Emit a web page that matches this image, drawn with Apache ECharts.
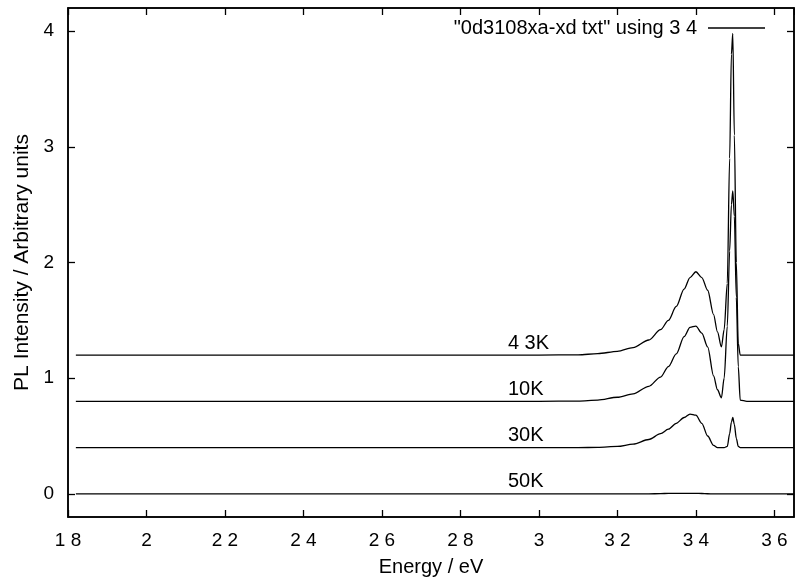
<!DOCTYPE html>
<html>
<head>
<meta charset="utf-8">
<script src="https://cdn.jsdelivr.net/npm/echarts@6/dist/echarts.min.js"></script>
<style>
  html, body { margin: 0; padding: 0; background: #fff; }
  #chart { width: 795px; height: 588px; }
</style>
</head>
<body>
<div id="chart"></div>
<script>
// Photon energy grid (eV), shared by all temperature traces
const energy = [1.82, 2.0, 2.4, 2.8, 3.0, 3.1, 3.15, 3.2, 3.24, 3.28, 3.31, 3.33, 3.35, 3.37, 3.385, 3.40, 3.415, 3.43, 3.445, 3.455, 3.465, 3.472, 3.48, 3.486, 3.4905, 3.494, 3.498, 3.503, 3.508, 3.513, 3.53, 3.65];

// PL intensity (arbitrary units, vertically offset per temperature)
const pl4_3K = [1.2, 1.2, 1.2, 1.2, 1.2, 1.202, 1.212, 1.232, 1.265, 1.33, 1.42, 1.50, 1.62, 1.77, 1.87, 1.92, 1.87, 1.76, 1.55, 1.40, 1.27, 1.42, 1.82, 2.9, 3.8, 3.98, 3.1, 2.0, 1.3, 1.2, 1.2, 1.2];
const pl10K  = [0.8, 0.8, 0.8, 0.8, 0.8, 0.802, 0.81, 0.835, 0.865, 0.93, 1.01, 1.10, 1.21, 1.36, 1.44, 1.45, 1.39, 1.27, 1.02, 0.90, 0.83, 1.0, 1.45, 2.1, 2.5, 2.62, 2.4, 1.7, 1.1, 0.81, 0.8, 0.8];
const pl30K  = [0.4, 0.4, 0.4, 0.4, 0.4, 0.4, 0.402, 0.41, 0.43, 0.47, 0.52, 0.56, 0.61, 0.66, 0.69, 0.68, 0.61, 0.50, 0.42, 0.40, 0.40, 0.40, 0.41, 0.52, 0.62, 0.66, 0.60, 0.48, 0.41, 0.40, 0.40, 0.40];
const pl50K  = [0, 0, 0, 0, 0, 0, 0, 0, 0, 0, 0.002, 0.004, 0.005, 0.005, 0.005, 0.004, 0.003, 0.001, 0, 0, 0, 0, 0, 0, 0, 0, 0, 0, 0, 0, 0, 0];

// Temperature labels and where they sit (eV, baseline intensity)
const tempLabels = ['4 3K', '10K', '30K', '50K'];
const labelEnergy = 2.921;
const labelBase = [1.2, 0.8, 0.4, 0];

// Axis tick labels
const xTicks = {1.8: '1 8', 2: '2', 2.2: '2 2', 2.4: '2 4', 2.6: '2 6', 2.8: '2 8', 3: '3', 3.2: '3 2', 3.4: '3 4', 3.6: '3 6'};
const yTicks = {0: '0', 1: '1', 2: '2', 3: '3', 4: '4'};

const seriesName = '"0d3108xa-xd txt" using 3 4';
const font = '"Liberation Sans", Arial, Helvetica, sans-serif';
const traces = [pl4_3K, pl10K, pl30K, pl50K];

const chart = echarts.init(document.getElementById('chart'), null, {renderer: 'canvas'});

const xKey = v => String(Math.round(v * 10) / 10);
const xFmt = v => { const k = xKey(v); return xTicks[k] !== undefined ? xTicks[k] : ''; };
const yFmt = v => { const k = String(Math.round(v)); return yTicks[k] !== undefined ? yTicks[k] : ''; };

const mkLine = () => ({show: true, onZero: false, lineStyle: {color: '#000', width: 1.5}});
const mkTick = () => ({show: true, inside: true, length: 7, lineStyle: {color: '#000', width: 1.3}});
const yTickValues = [0, 1, 2, 3, 4];

const series = traces.map(t => ({
  name: seriesName,
  type: 'line',
  xAxisIndex: 0,
  yAxisIndex: 0,
  data: energy.map((e, i) => [e, t[i]]),
  symbol: 'none',
  smooth: 0.3,
  smoothMonotone: 'x',
  lineStyle: {color: '#000', width: 1.3},
  itemStyle: {color: '#000'},
  z: 3
}));

// temperature captions, placed on the mirrored axes (same scales)
series.push({
  type: 'scatter',
  xAxisIndex: 1,
  yAxisIndex: 1,
  symbolSize: 0,
  silent: true,
  itemStyle: {opacity: 1, color: '#000'},
  data: tempLabels.map((s, i) => ({value: [labelEnergy, labelBase[i]], name: s})),
  label: {
    show: true,
    position: 'top',
    align: 'left',
    distance: 2,
    formatter: p => p.name,
    color: '#000',
    opacity: 1,
    fontFamily: font,
    fontSize: 20
  }
});

chart.setOption({
  animation: false,
  backgroundColor: '#fff',
  grid: {left: 68, right: 1, top: 8, bottom: 71, show: true, borderColor: '#000', borderWidth: 1.5, backgroundColor: 'transparent'},
  legend: {
    data: [seriesName],
    right: 25,
    top: 13,
    align: 'right',
    icon: 'rect',
    itemWidth: 57,
    itemHeight: 1.5,
    selectedMode: false,
    textStyle: {color: '#000', fontFamily: font, fontSize: 20, padding: [0, 6, 0, 0]}
  },
  xAxis: [
    {
      type: 'value', min: 1.8, max: 3.65, interval: 0.2, position: 'bottom',
      name: 'Energy / eV', nameLocation: 'middle', nameGap: 40,
      nameTextStyle: {color: '#000', fontFamily: font, fontSize: 20},
      axisLine: mkLine(), axisTick: mkTick(), splitLine: {show: false},
      axisLabel: {color: '#000', fontFamily: font, fontSize: 19, margin: 14, formatter: xFmt, showMaxLabel: false}
    },
    {
      type: 'value', min: 1.8, max: 3.65, interval: 0.2, position: 'top',
      axisLine: mkLine(), axisTick: mkTick(), splitLine: {show: false},
      axisLabel: {show: false}
    }
  ],
  yAxis: [
    {
      type: 'value', min: -0.2, max: 4.2, interval: 1, position: 'left',
      name: 'PL Intensity / Arbitrary units', nameLocation: 'middle', nameGap: 34,
      nameTextStyle: {color: '#000', fontFamily: font, fontSize: 21},
      axisLine: mkLine(), splitLine: {show: false},
      axisLabel: {color: '#000', fontFamily: font, fontSize: 19, margin: 14, formatter: yFmt, customValues: yTickValues},
      axisTick: Object.assign(mkTick(), {customValues: yTickValues})
    },
    {
      type: 'value', min: -0.2, max: 4.2, interval: 1, position: 'right',
      axisLine: mkLine(), splitLine: {show: false},
      axisLabel: {show: false},
      axisTick: Object.assign(mkTick(), {customValues: yTickValues})
    }
  ],
  series: series
});
</script>
</body>
</html>
